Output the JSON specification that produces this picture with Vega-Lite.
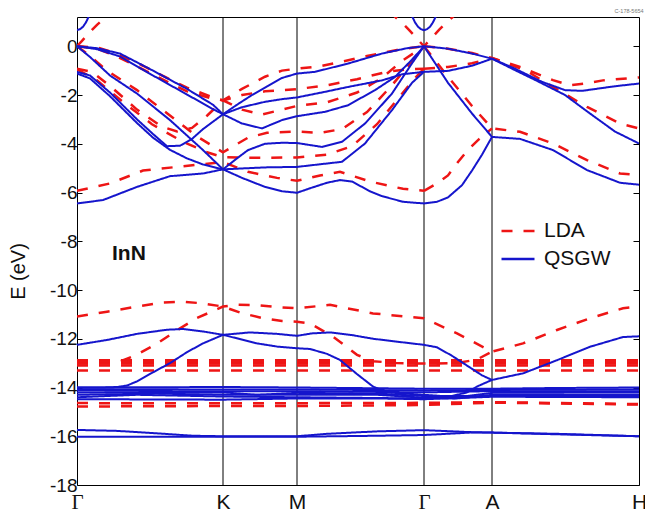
{
"$schema": "https://vega.github.io/schema/vega-lite/v6.json",
"width": 562, "height": 468,
"autosize": {"type": "none"},
"padding": {"left": 77, "top": 17, "right": 6, "bottom": 28},
"background": "white",
"config": {"view": {"stroke": "#000", "strokeWidth": 1}, "font": "Liberation Sans"},
"title": {"text": "C-178-5654", "anchor": "end", "fontSize": 5.5, "fontWeight": "normal", "color": "#777", "offset": 2, "dx": -3},
"datasets": {
"kpts": [{"k": 146}, {"k": 220}, {"k": 347}, {"k": 415}],
"labels": [{"name": "InN", "k": 35, "E": -8.77}],
"bands": [
{"b":"q1","m":"QSGW","k":0,"E":0},{"b":"q1","m":"QSGW","k":20,"E":-0.08},{"b":"q1","m":"QSGW","k":43,"E":-0.3},{"b":"q1","m":"QSGW","k":76,"E":-1.0},{"b":"q1","m":"QSGW","k":110,"E":-1.75},{"b":"q1","m":"QSGW","k":136,"E":-2.4},{"b":"q1","m":"QSGW","k":146,"E":-2.79},{"b":"q1","m":"QSGW","k":160,"E":-2.4},{"b":"q1","m":"QSGW","k":175,"E":-2.0},{"b":"q1","m":"QSGW","k":190,"E":-1.65},{"b":"q1","m":"QSGW","k":205,"E":-1.3},{"b":"q1","m":"QSGW","k":220,"E":-1.12},{"b":"q1","m":"QSGW","k":238,"E":-1.05},{"b":"q1","m":"QSGW","k":271,"E":-0.71},{"b":"q1","m":"QSGW","k":305,"E":-0.3},{"b":"q1","m":"QSGW","k":330,"E":-0.08},{"b":"q1","m":"QSGW","k":347,"E":0},
{"b":"q2","m":"QSGW","k":0,"E":0},{"b":"q2","m":"QSGW","k":20,"E":-0.12},{"b":"q2","m":"QSGW","k":43,"E":-0.42},{"b":"q2","m":"QSGW","k":76,"E":-1.2},{"b":"q2","m":"QSGW","k":110,"E":-1.98},{"b":"q2","m":"QSGW","k":136,"E":-2.58},{"b":"q2","m":"QSGW","k":146,"E":-2.79},{"b":"q2","m":"QSGW","k":165,"E":-2.5},{"b":"q2","m":"QSGW","k":188,"E":-2.28},{"b":"q2","m":"QSGW","k":205,"E":-2.17},{"b":"q2","m":"QSGW","k":220,"E":-2.1},{"b":"q2","m":"QSGW","k":248,"E":-1.87},{"b":"q2","m":"QSGW","k":271,"E":-1.67},{"b":"q2","m":"QSGW","k":305,"E":-1.4},{"b":"q2","m":"QSGW","k":325,"E":-1.15},{"b":"q2","m":"QSGW","k":347,"E":-1.05},
{"b":"q3","m":"QSGW","k":0,"E":0},{"b":"q3","m":"QSGW","k":13,"E":-0.44},{"b":"q3","m":"QSGW","k":33,"E":-1.2},{"b":"q3","m":"QSGW","k":60,"E":-1.94},{"b":"q3","m":"QSGW","k":93,"E":-3.03},{"b":"q3","m":"QSGW","k":126,"E":-4.26},{"b":"q3","m":"QSGW","k":146,"E":-5.05},{"b":"q3","m":"QSGW","k":160,"E":-4.6},{"b":"q3","m":"QSGW","k":171,"E":-4.26},{"b":"q3","m":"QSGW","k":188,"E":-4.0},{"b":"q3","m":"QSGW","k":205,"E":-3.96},{"b":"q3","m":"QSGW","k":220,"E":-3.97},{"b":"q3","m":"QSGW","k":245,"E":-4.13},{"b":"q3","m":"QSGW","k":265,"E":-3.92},{"b":"q3","m":"QSGW","k":288,"E":-3.17},{"b":"q3","m":"QSGW","k":315,"E":-1.94},{"b":"q3","m":"QSGW","k":335,"E":-0.7},{"b":"q3","m":"QSGW","k":347,"E":0},
{"b":"q4","m":"QSGW","k":0,"E":-1.05},{"b":"q4","m":"QSGW","k":13,"E":-1.2},{"b":"q4","m":"QSGW","k":33,"E":-1.9},{"b":"q4","m":"QSGW","k":60,"E":-3.0},{"b":"q4","m":"QSGW","k":76,"E":-3.6},{"b":"q4","m":"QSGW","k":90,"E":-4.1},{"b":"q4","m":"QSGW","k":103,"E":-4.08},{"b":"q4","m":"QSGW","k":115,"E":-3.8},{"b":"q4","m":"QSGW","k":126,"E":-3.4},{"b":"q4","m":"QSGW","k":146,"E":-2.79},{"b":"q4","m":"QSGW","k":165,"E":-3.17},{"b":"q4","m":"QSGW","k":185,"E":-3.37},{"b":"q4","m":"QSGW","k":205,"E":-3.03},{"b":"q4","m":"QSGW","k":220,"E":-2.87},{"b":"q4","m":"QSGW","k":248,"E":-2.69},{"b":"q4","m":"QSGW","k":271,"E":-2.42},{"b":"q4","m":"QSGW","k":298,"E":-1.8},{"b":"q4","m":"QSGW","k":318,"E":-1.26},{"b":"q4","m":"QSGW","k":335,"E":-0.55},{"b":"q4","m":"QSGW","k":347,"E":0},
{"b":"q5","m":"QSGW","k":0,"E":-1.12},{"b":"q5","m":"QSGW","k":13,"E":-1.32},{"b":"q5","m":"QSGW","k":33,"E":-2.05},{"b":"q5","m":"QSGW","k":60,"E":-3.15},{"b":"q5","m":"QSGW","k":76,"E":-3.75},{"b":"q5","m":"QSGW","k":93,"E":-4.25},{"b":"q5","m":"QSGW","k":110,"E":-4.6},{"b":"q5","m":"QSGW","k":126,"E":-4.85},{"b":"q5","m":"QSGW","k":146,"E":-5.05},{"b":"q5","m":"QSGW","k":188,"E":-4.97},{"b":"q5","m":"QSGW","k":220,"E":-4.95},{"b":"q5","m":"QSGW","k":265,"E":-4.74},{"b":"q5","m":"QSGW","k":288,"E":-3.99},{"b":"q5","m":"QSGW","k":315,"E":-2.62},{"b":"q5","m":"QSGW","k":335,"E":-1.5},{"b":"q5","m":"QSGW","k":347,"E":-1.05},
{"b":"q6","m":"QSGW","k":0,"E":-6.45},{"b":"q6","m":"QSGW","k":26,"E":-6.31},{"b":"q6","m":"QSGW","k":60,"E":-5.77},{"b":"q6","m":"QSGW","k":93,"E":-5.33},{"b":"q6","m":"QSGW","k":126,"E":-5.22},{"b":"q6","m":"QSGW","k":146,"E":-5.05},{"b":"q6","m":"QSGW","k":165,"E":-5.4},{"b":"q6","m":"QSGW","k":188,"E":-5.77},{"b":"q6","m":"QSGW","k":205,"E":-5.95},{"b":"q6","m":"QSGW","k":220,"E":-6.01},{"b":"q6","m":"QSGW","k":235,"E":-5.8},{"b":"q6","m":"QSGW","k":250,"E":-5.6},{"b":"q6","m":"QSGW","k":263,"E":-5.49},{"b":"q6","m":"QSGW","k":275,"E":-5.55},{"b":"q6","m":"QSGW","k":293,"E":-5.95},{"b":"q6","m":"QSGW","k":305,"E":-6.15},{"b":"q6","m":"QSGW","k":326,"E":-6.38},{"b":"q6","m":"QSGW","k":347,"E":-6.45},
{"b":"qa1","m":"QSGW","k":347,"E":0},{"b":"qa1","m":"QSGW","k":371,"E":-0.1},{"b":"qa1","m":"QSGW","k":395,"E":-0.3},{"b":"qa1","m":"QSGW","k":415,"E":-0.51},{"b":"qa1","m":"QSGW","k":438,"E":-0.92},{"b":"qa1","m":"QSGW","k":465,"E":-1.46},{"b":"qa1","m":"QSGW","k":488,"E":-1.8},{"b":"qa1","m":"QSGW","k":505,"E":-1.83},{"b":"qa1","m":"QSGW","k":538,"E":-1.64},{"b":"qa1","m":"QSGW","k":562,"E":-1.53},
{"b":"qa2","m":"QSGW","k":347,"E":-1.05},{"b":"qa2","m":"QSGW","k":371,"E":-1.01},{"b":"qa2","m":"QSGW","k":395,"E":-0.8},{"b":"qa2","m":"QSGW","k":415,"E":-0.51},{"b":"qa2","m":"QSGW","k":438,"E":-0.98},{"b":"qa2","m":"QSGW","k":460,"E":-1.42},{"b":"qa2","m":"QSGW","k":488,"E":-2.0},{"b":"qa2","m":"QSGW","k":511,"E":-2.7},{"b":"qa2","m":"QSGW","k":538,"E":-3.5},{"b":"qa2","m":"QSGW","k":562,"E":-3.99},
{"b":"qa3","m":"QSGW","k":347,"E":0},{"b":"qa3","m":"QSGW","k":371,"E":-1.5},{"b":"qa3","m":"QSGW","k":395,"E":-2.76},{"b":"qa3","m":"QSGW","k":415,"E":-3.72},{"b":"qa3","m":"QSGW","k":443,"E":-3.8},{"b":"qa3","m":"QSGW","k":476,"E":-4.26},{"b":"qa3","m":"QSGW","k":510,"E":-5.08},{"b":"qa3","m":"QSGW","k":543,"E":-5.6},{"b":"qa3","m":"QSGW","k":562,"E":-5.68},
{"b":"qa4","m":"QSGW","k":347,"E":-6.45},{"b":"qa4","m":"QSGW","k":360,"E":-6.38},{"b":"qa4","m":"QSGW","k":371,"E":-6.2},{"b":"qa4","m":"QSGW","k":385,"E":-5.7},{"b":"qa4","m":"QSGW","k":395,"E":-5.1},{"b":"qa4","m":"QSGW","k":405,"E":-4.45},{"b":"qa4","m":"QSGW","k":415,"E":-3.72},
{"b":"qc1","m":"QSGW","k":0,"E":0.66},{"b":"qc1","m":"QSGW","k":3,"E":0.7},{"b":"qc1","m":"QSGW","k":6,"E":0.8},{"b":"qc1","m":"QSGW","k":9,"E":0.98},{"b":"qc1","m":"QSGW","k":12,"E":1.24},{"b":"qc1","m":"QSGW","k":15,"E":1.55},
{"b":"qc2","m":"QSGW","k":332,"E":1.55},{"b":"qc2","m":"QSGW","k":335,"E":1.24},{"b":"qc2","m":"QSGW","k":338,"E":0.98},{"b":"qc2","m":"QSGW","k":341,"E":0.8},{"b":"qc2","m":"QSGW","k":344,"E":0.7},{"b":"qc2","m":"QSGW","k":347,"E":0.66},{"b":"qc2","m":"QSGW","k":350,"E":0.7},{"b":"qc2","m":"QSGW","k":353,"E":0.8},{"b":"qc2","m":"QSGW","k":356,"E":0.98},{"b":"qc2","m":"QSGW","k":359,"E":1.24},{"b":"qc2","m":"QSGW","k":362,"E":1.55},
{"b":"ql1","m":"QSGW","k":0,"E":-12.25},{"b":"ql1","m":"QSGW","k":30,"E":-12.05},{"b":"ql1","m":"QSGW","k":60,"E":-11.8},{"b":"ql1","m":"QSGW","k":90,"E":-11.63},{"b":"ql1","m":"QSGW","k":106,"E":-11.6},{"b":"ql1","m":"QSGW","k":126,"E":-11.7},{"b":"ql1","m":"QSGW","k":146,"E":-11.84},{"b":"ql1","m":"QSGW","k":180,"E":-12.19},{"b":"ql1","m":"QSGW","k":200,"E":-12.32},{"b":"ql1","m":"QSGW","k":220,"E":-12.39},{"b":"ql1","m":"QSGW","k":233,"E":-12.42},{"b":"ql1","m":"QSGW","k":250,"E":-12.62},{"b":"ql1","m":"QSGW","k":263,"E":-12.87},{"b":"ql1","m":"QSGW","k":280,"E":-13.45},{"b":"ql1","m":"QSGW","k":296,"E":-13.96},{"b":"ql1","m":"QSGW","k":310,"E":-14.2},{"b":"ql1","m":"QSGW","k":347,"E":-14.3},{"b":"ql1","m":"QSGW","k":373,"E":-14.37},{"b":"ql1","m":"QSGW","k":390,"E":-14.2},{"b":"ql1","m":"QSGW","k":400,"E":-13.96},{"b":"ql1","m":"QSGW","k":415,"E":-13.69},
{"b":"ql2","m":"QSGW","k":0,"E":-14.0},{"b":"ql2","m":"QSGW","k":25,"E":-14.0},{"b":"ql2","m":"QSGW","k":40,"E":-13.98},{"b":"ql2","m":"QSGW","k":50,"E":-13.92},{"b":"ql2","m":"QSGW","k":60,"E":-13.75},{"b":"ql2","m":"QSGW","k":75,"E":-13.4},{"b":"ql2","m":"QSGW","k":93,"E":-13.0},{"b":"ql2","m":"QSGW","k":110,"E":-12.55},{"b":"ql2","m":"QSGW","k":126,"E":-12.19},{"b":"ql2","m":"QSGW","k":146,"E":-11.84},{"b":"ql2","m":"QSGW","k":173,"E":-11.74},{"b":"ql2","m":"QSGW","k":200,"E":-11.8},{"b":"ql2","m":"QSGW","k":220,"E":-11.88},{"b":"ql2","m":"QSGW","k":235,"E":-11.78},{"b":"ql2","m":"QSGW","k":253,"E":-11.74},{"b":"ql2","m":"QSGW","k":275,"E":-11.85},{"b":"ql2","m":"QSGW","k":296,"E":-12.0},{"b":"ql2","m":"QSGW","k":320,"E":-12.12},{"b":"ql2","m":"QSGW","k":347,"E":-12.25},{"b":"ql2","m":"QSGW","k":360,"E":-12.35},{"b":"ql2","m":"QSGW","k":375,"E":-12.7},{"b":"ql2","m":"QSGW","k":390,"E":-13.1},{"b":"ql2","m":"QSGW","k":405,"E":-13.5},{"b":"ql2","m":"QSGW","k":415,"E":-13.69},{"b":"ql2","m":"QSGW","k":446,"E":-13.42},{"b":"ql2","m":"QSGW","k":480,"E":-12.88},{"b":"ql2","m":"QSGW","k":513,"E":-12.33},{"b":"ql2","m":"QSGW","k":546,"E":-11.93},{"b":"ql2","m":"QSGW","k":562,"E":-11.9},
{"b":"d1","m":"QSGW","k":0,"E":-14.0},{"b":"d1","m":"QSGW","k":146,"E":-13.98},{"b":"d1","m":"QSGW","k":220,"E":-14.0},{"b":"d1","m":"QSGW","k":347,"E":-14.05},{"b":"d1","m":"QSGW","k":415,"E":-14.05},{"b":"d1","m":"QSGW","k":480,"E":-14.02},{"b":"d1","m":"QSGW","k":562,"E":-14.0},
{"b":"d2","m":"QSGW","k":0,"E":-14.07},{"b":"d2","m":"QSGW","k":146,"E":-14.08},{"b":"d2","m":"QSGW","k":220,"E":-14.08},{"b":"d2","m":"QSGW","k":347,"E":-14.12},{"b":"d2","m":"QSGW","k":415,"E":-14.1},{"b":"d2","m":"QSGW","k":562,"E":-14.08},
{"b":"d3","m":"QSGW","k":0,"E":-14.12},{"b":"d3","m":"QSGW","k":100,"E":-14.15},{"b":"d3","m":"QSGW","k":146,"E":-14.15},{"b":"d3","m":"QSGW","k":220,"E":-14.15},{"b":"d3","m":"QSGW","k":300,"E":-14.18},{"b":"d3","m":"QSGW","k":347,"E":-14.2},{"b":"d3","m":"QSGW","k":415,"E":-14.15},{"b":"d3","m":"QSGW","k":562,"E":-14.15},
{"b":"d4","m":"QSGW","k":0,"E":-14.2},{"b":"d4","m":"QSGW","k":146,"E":-14.2},{"b":"d4","m":"QSGW","k":180,"E":-14.3},{"b":"d4","m":"QSGW","k":220,"E":-14.22},{"b":"d4","m":"QSGW","k":300,"E":-14.25},{"b":"d4","m":"QSGW","k":347,"E":-14.35},{"b":"d4","m":"QSGW","k":390,"E":-14.35},{"b":"d4","m":"QSGW","k":415,"E":-14.22},{"b":"d4","m":"QSGW","k":562,"E":-14.2},
{"b":"d5","m":"QSGW","k":0,"E":-14.3},{"b":"d5","m":"QSGW","k":80,"E":-14.25},{"b":"d5","m":"QSGW","k":146,"E":-14.3},{"b":"d5","m":"QSGW","k":220,"E":-14.3},{"b":"d5","m":"QSGW","k":300,"E":-14.3},{"b":"d5","m":"QSGW","k":347,"E":-14.42},{"b":"d5","m":"QSGW","k":380,"E":-14.45},{"b":"d5","m":"QSGW","k":415,"E":-14.3},{"b":"d5","m":"QSGW","k":562,"E":-14.3},
{"b":"d6","m":"QSGW","k":0,"E":-14.4},{"b":"d6","m":"QSGW","k":60,"E":-14.3},{"b":"d6","m":"QSGW","k":146,"E":-14.37},{"b":"d6","m":"QSGW","k":220,"E":-14.4},{"b":"d6","m":"QSGW","k":347,"E":-14.45},{"b":"d6","m":"QSGW","k":415,"E":-14.35},{"b":"d6","m":"QSGW","k":562,"E":-14.35},
{"b":"d7","m":"QSGW","k":0,"E":-14.48},{"b":"d7","m":"QSGW","k":146,"E":-14.5},{"b":"d7","m":"QSGW","k":220,"E":-14.45},{"b":"d7","m":"QSGW","k":300,"E":-14.45},{"b":"d7","m":"QSGW","k":347,"E":-14.48},{"b":"d7","m":"QSGW","k":390,"E":-14.42},{"b":"d7","m":"QSGW","k":415,"E":-14.38},{"b":"d7","m":"QSGW","k":562,"E":-14.4},
{"b":"n1","m":"QSGW","k":0,"E":-15.74},{"b":"n1","m":"QSGW","k":40,"E":-15.78},{"b":"n1","m":"QSGW","k":80,"E":-15.88},{"b":"n1","m":"QSGW","k":116,"E":-15.98},{"b":"n1","m":"QSGW","k":146,"E":-16.0},{"b":"n1","m":"QSGW","k":220,"E":-16.0},{"b":"n1","m":"QSGW","k":250,"E":-15.9},{"b":"n1","m":"QSGW","k":300,"E":-15.8},{"b":"n1","m":"QSGW","k":347,"E":-15.75},{"b":"n1","m":"QSGW","k":393,"E":-15.83},{"b":"n1","m":"QSGW","k":415,"E":-15.85},{"b":"n1","m":"QSGW","k":480,"E":-15.9},{"b":"n1","m":"QSGW","k":562,"E":-16.0},
{"b":"n2","m":"QSGW","k":0,"E":-16.02},{"b":"n2","m":"QSGW","k":146,"E":-16.02},{"b":"n2","m":"QSGW","k":220,"E":-16.02},{"b":"n2","m":"QSGW","k":300,"E":-15.98},{"b":"n2","m":"QSGW","k":347,"E":-15.95},{"b":"n2","m":"QSGW","k":393,"E":-15.85},{"b":"n2","m":"QSGW","k":415,"E":-15.85},{"b":"n2","m":"QSGW","k":480,"E":-15.92},{"b":"n2","m":"QSGW","k":562,"E":-16.0},
{"b":"l1","m":"LDA","k":0,"E":0},{"b":"l1","m":"LDA","k":20,"E":-0.05},{"b":"l1","m":"LDA","k":40,"E":-0.3},{"b":"l1","m":"LDA","k":66,"E":-0.8},{"b":"l1","m":"LDA","k":90,"E":-1.3},{"b":"l1","m":"LDA","k":110,"E":-1.7},{"b":"l1","m":"LDA","k":133,"E":-2.05},{"b":"l1","m":"LDA","k":146,"E":-2.22},{"b":"l1","m":"LDA","k":165,"E":-1.75},{"b":"l1","m":"LDA","k":188,"E":-1.25},{"b":"l1","m":"LDA","k":205,"E":-1.0},{"b":"l1","m":"LDA","k":220,"E":-0.92},{"b":"l1","m":"LDA","k":243,"E":-0.82},{"b":"l1","m":"LDA","k":263,"E":-0.65},{"b":"l1","m":"LDA","k":290,"E":-0.4},{"b":"l1","m":"LDA","k":320,"E":-0.15},{"b":"l1","m":"LDA","k":347,"E":0},
{"b":"l2","m":"LDA","k":0,"E":0},{"b":"l2","m":"LDA","k":20,"E":-0.1},{"b":"l2","m":"LDA","k":40,"E":-0.42},{"b":"l2","m":"LDA","k":66,"E":-0.95},{"b":"l2","m":"LDA","k":90,"E":-1.45},{"b":"l2","m":"LDA","k":110,"E":-1.85},{"b":"l2","m":"LDA","k":133,"E":-2.12},{"b":"l2","m":"LDA","k":146,"E":-2.22},{"b":"l2","m":"LDA","k":165,"E":-2.0},{"b":"l2","m":"LDA","k":188,"E":-1.85},{"b":"l2","m":"LDA","k":220,"E":-1.76},{"b":"l2","m":"LDA","k":250,"E":-1.6},{"b":"l2","m":"LDA","k":280,"E":-1.35},{"b":"l2","m":"LDA","k":310,"E":-1.05},{"b":"l2","m":"LDA","k":330,"E":-0.95},{"b":"l2","m":"LDA","k":347,"E":-0.92},
{"b":"l3","m":"LDA","k":0,"E":0},{"b":"l3","m":"LDA","k":10,"E":-0.3},{"b":"l3","m":"LDA","k":30,"E":-1.0},{"b":"l3","m":"LDA","k":60,"E":-1.8},{"b":"l3","m":"LDA","k":90,"E":-2.75},{"b":"l3","m":"LDA","k":120,"E":-3.7},{"b":"l3","m":"LDA","k":146,"E":-4.35},{"b":"l3","m":"LDA","k":171,"E":-3.75},{"b":"l3","m":"LDA","k":190,"E":-3.55},{"b":"l3","m":"LDA","k":220,"E":-3.5},{"b":"l3","m":"LDA","k":243,"E":-3.55},{"b":"l3","m":"LDA","k":265,"E":-3.4},{"b":"l3","m":"LDA","k":290,"E":-2.7},{"b":"l3","m":"LDA","k":315,"E":-1.6},{"b":"l3","m":"LDA","k":335,"E":-0.6},{"b":"l3","m":"LDA","k":347,"E":0},
{"b":"l4","m":"LDA","k":0,"E":-0.92},{"b":"l4","m":"LDA","k":15,"E":-1.05},{"b":"l4","m":"LDA","k":35,"E":-1.7},{"b":"l4","m":"LDA","k":60,"E":-2.6},{"b":"l4","m":"LDA","k":85,"E":-3.3},{"b":"l4","m":"LDA","k":100,"E":-3.5},{"b":"l4","m":"LDA","k":115,"E":-3.35},{"b":"l4","m":"LDA","k":130,"E":-2.85},{"b":"l4","m":"LDA","k":146,"E":-2.22},{"b":"l4","m":"LDA","k":165,"E":-2.6},{"b":"l4","m":"LDA","k":185,"E":-2.8},{"b":"l4","m":"LDA","k":205,"E":-2.6},{"b":"l4","m":"LDA","k":220,"E":-2.45},{"b":"l4","m":"LDA","k":250,"E":-2.3},{"b":"l4","m":"LDA","k":280,"E":-1.9},{"b":"l4","m":"LDA","k":305,"E":-1.3},{"b":"l4","m":"LDA","k":325,"E":-0.6},{"b":"l4","m":"LDA","k":347,"E":0},
{"b":"l5","m":"LDA","k":0,"E":-0.95},{"b":"l5","m":"LDA","k":20,"E":-1.4},{"b":"l5","m":"LDA","k":45,"E":-2.25},{"b":"l5","m":"LDA","k":75,"E":-3.2},{"b":"l5","m":"LDA","k":105,"E":-3.9},{"b":"l5","m":"LDA","k":130,"E":-4.35},{"b":"l5","m":"LDA","k":146,"E":-4.55},{"b":"l5","m":"LDA","k":185,"E":-4.58},{"b":"l5","m":"LDA","k":220,"E":-4.56},{"b":"l5","m":"LDA","k":250,"E":-4.45},{"b":"l5","m":"LDA","k":275,"E":-4.1},{"b":"l5","m":"LDA","k":300,"E":-3.2},{"b":"l5","m":"LDA","k":320,"E":-2.2},{"b":"l5","m":"LDA","k":337,"E":-1.35},{"b":"l5","m":"LDA","k":347,"E":-0.92},
{"b":"l6","m":"LDA","k":0,"E":-5.93},{"b":"l6","m":"LDA","k":33,"E":-5.63},{"b":"l6","m":"LDA","k":66,"E":-5.1},{"b":"l6","m":"LDA","k":100,"E":-4.95},{"b":"l6","m":"LDA","k":146,"E":-4.75},{"b":"l6","m":"LDA","k":171,"E":-5.15},{"b":"l6","m":"LDA","k":200,"E":-5.4},{"b":"l6","m":"LDA","k":220,"E":-5.52},{"b":"l6","m":"LDA","k":243,"E":-5.3},{"b":"l6","m":"LDA","k":263,"E":-5.15},{"b":"l6","m":"LDA","k":293,"E":-5.55},{"b":"l6","m":"LDA","k":326,"E":-5.85},{"b":"l6","m":"LDA","k":347,"E":-5.93},
{"b":"la1","m":"LDA","k":347,"E":0},{"b":"la1","m":"LDA","k":371,"E":-0.1},{"b":"la1","m":"LDA","k":395,"E":-0.28},{"b":"la1","m":"LDA","k":415,"E":-0.48},{"b":"la1","m":"LDA","k":443,"E":-0.85},{"b":"la1","m":"LDA","k":476,"E":-1.39},{"b":"la1","m":"LDA","k":493,"E":-1.6},{"b":"la1","m":"LDA","k":510,"E":-1.52},{"b":"la1","m":"LDA","k":526,"E":-1.4},{"b":"la1","m":"LDA","k":562,"E":-1.28},
{"b":"la2","m":"LDA","k":347,"E":-0.92},{"b":"la2","m":"LDA","k":371,"E":-0.85},{"b":"la2","m":"LDA","k":395,"E":-0.7},{"b":"la2","m":"LDA","k":415,"E":-0.48},{"b":"la2","m":"LDA","k":449,"E":-1.0},{"b":"la2","m":"LDA","k":476,"E":-1.67},{"b":"la2","m":"LDA","k":510,"E":-2.49},{"b":"la2","m":"LDA","k":543,"E":-3.17},{"b":"la2","m":"LDA","k":562,"E":-3.37},
{"b":"la3","m":"LDA","k":347,"E":0},{"b":"la3","m":"LDA","k":371,"E":-1.25},{"b":"la3","m":"LDA","k":395,"E":-2.45},{"b":"la3","m":"LDA","k":415,"E":-3.37},{"b":"la3","m":"LDA","k":443,"E":-3.51},{"b":"la3","m":"LDA","k":476,"E":-3.99},{"b":"la3","m":"LDA","k":510,"E":-4.67},{"b":"la3","m":"LDA","k":543,"E":-5.22},{"b":"la3","m":"LDA","k":562,"E":-5.29},
{"b":"la4","m":"LDA","k":347,"E":-5.93},{"b":"la4","m":"LDA","k":361,"E":-5.6},{"b":"la4","m":"LDA","k":371,"E":-5.3},{"b":"la4","m":"LDA","k":381,"E":-4.75},{"b":"la4","m":"LDA","k":391,"E":-4.25},{"b":"la4","m":"LDA","k":401,"E":-3.85},{"b":"la4","m":"LDA","k":415,"E":-3.37},
{"b":"lc1","m":"LDA","k":0,"E":0.0},{"b":"lc1","m":"LDA","k":5,"E":0.22},{"b":"lc1","m":"LDA","k":10,"E":0.45},{"b":"lc1","m":"LDA","k":15,"E":0.67},{"b":"lc1","m":"LDA","k":20,"E":0.88},{"b":"lc1","m":"LDA","k":25,"E":1.06},{"b":"lc1","m":"LDA","k":30,"E":1.25},{"b":"lc1","m":"LDA","k":35,"E":1.45},
{"b":"lc2","m":"LDA","k":312,"E":1.45},{"b":"lc2","m":"LDA","k":317,"E":1.25},{"b":"lc2","m":"LDA","k":322,"E":1.06},{"b":"lc2","m":"LDA","k":327,"E":0.88},{"b":"lc2","m":"LDA","k":332,"E":0.67},{"b":"lc2","m":"LDA","k":337,"E":0.45},{"b":"lc2","m":"LDA","k":342,"E":0.22},{"b":"lc2","m":"LDA","k":347,"E":0.0},{"b":"lc2","m":"LDA","k":352,"E":0.22},{"b":"lc2","m":"LDA","k":357,"E":0.45},{"b":"lc2","m":"LDA","k":362,"E":0.67},{"b":"lc2","m":"LDA","k":367,"E":0.88},{"b":"lc2","m":"LDA","k":372,"E":1.06},{"b":"lc2","m":"LDA","k":377,"E":1.25},{"b":"lc2","m":"LDA","k":382,"E":1.45},
{"b":"lr1","m":"LDA","k":0,"E":-11.09},{"b":"lr1","m":"LDA","k":30,"E":-10.89},{"b":"lr1","m":"LDA","k":60,"E":-10.68},{"b":"lr1","m":"LDA","k":85,"E":-10.52},{"b":"lr1","m":"LDA","k":106,"E":-10.48},{"b":"lr1","m":"LDA","k":126,"E":-10.55},{"b":"lr1","m":"LDA","k":146,"E":-10.68},{"b":"lr1","m":"LDA","k":165,"E":-10.95},{"b":"lr1","m":"LDA","k":185,"E":-11.15},{"b":"lr1","m":"LDA","k":205,"E":-11.27},{"b":"lr1","m":"LDA","k":220,"E":-11.3},{"b":"lr1","m":"LDA","k":233,"E":-11.37},{"b":"lr1","m":"LDA","k":256,"E":-11.91},{"b":"lr1","m":"LDA","k":280,"E":-12.66},{"b":"lr1","m":"LDA","k":296,"E":-12.92},{"b":"lr1","m":"LDA","k":320,"E":-13.0},{"b":"lr1","m":"LDA","k":347,"E":-13.02},{"b":"lr1","m":"LDA","k":380,"E":-13.0},{"b":"lr1","m":"LDA","k":400,"E":-12.85},{"b":"lr1","m":"LDA","k":415,"E":-12.53},
{"b":"lr2","m":"LDA","k":0,"E":-13.0},{"b":"lr2","m":"LDA","k":35,"E":-13.0},{"b":"lr2","m":"LDA","k":45,"E":-12.9},{"b":"lr2","m":"LDA","k":60,"E":-12.65},{"b":"lr2","m":"LDA","k":80,"E":-12.2},{"b":"lr2","m":"LDA","k":100,"E":-11.65},{"b":"lr2","m":"LDA","k":120,"E":-11.15},{"b":"lr2","m":"LDA","k":146,"E":-10.68},{"b":"lr2","m":"LDA","k":160,"E":-10.6},{"b":"lr2","m":"LDA","k":180,"E":-10.62},{"b":"lr2","m":"LDA","k":200,"E":-10.7},{"b":"lr2","m":"LDA","k":220,"E":-10.75},{"b":"lr2","m":"LDA","k":253,"E":-10.61},{"b":"lr2","m":"LDA","k":296,"E":-10.96},{"b":"lr2","m":"LDA","k":347,"E":-11.16},{"b":"lr2","m":"LDA","k":380,"E":-11.78},{"b":"lr2","m":"LDA","k":415,"E":-12.53},{"b":"lr2","m":"LDA","k":446,"E":-12.19},{"b":"lr2","m":"LDA","k":480,"E":-11.64},{"b":"lr2","m":"LDA","k":513,"E":-11.16},{"b":"lr2","m":"LDA","k":546,"E":-10.75},{"b":"lr2","m":"LDA","k":562,"E":-10.68},
{"b":"ld1","m":"LDA","k":0,"E":-12.88},{"b":"ld1","m":"LDA","k":562,"E":-12.88},
{"b":"ld2","m":"LDA","k":0,"E":-12.95},{"b":"ld2","m":"LDA","k":562,"E":-12.95},
{"b":"ld3","m":"LDA","k":0,"E":-13.02},{"b":"ld3","m":"LDA","k":562,"E":-13.02},
{"b":"ld4","m":"LDA","k":0,"E":-13.1},{"b":"ld4","m":"LDA","k":562,"E":-13.1},
{"b":"ld5","m":"LDA","k":0,"E":-13.3},{"b":"ld5","m":"LDA","k":562,"E":-13.3},
{"b":"ln1","m":"LDA","k":0,"E":-14.64},{"b":"ln1","m":"LDA","k":146,"E":-14.65},{"b":"ln1","m":"LDA","k":347,"E":-14.63},{"b":"ln1","m":"LDA","k":415,"E":-14.6},{"b":"ln1","m":"LDA","k":562,"E":-14.68},
{"b":"ln2","m":"LDA","k":0,"E":-14.78},{"b":"ln2","m":"LDA","k":146,"E":-14.76},{"b":"ln2","m":"LDA","k":220,"E":-14.76},{"b":"ln2","m":"LDA","k":347,"E":-14.72},{"b":"ln2","m":"LDA","k":415,"E":-14.62},{"b":"ln2","m":"LDA","k":562,"E":-14.7}
]},
"resolve": {"axis": {"y": "independent"}},
"layer": [
{"data": {"name": "kpts"}, "mark": {"type": "rule", "color": "#000", "strokeWidth": 1},
 "encoding": {"x": {"field": "k", "type": "quantitative", "title": null,
   "scale": {"domain": [0, 562], "nice": false, "zero": false},
   "axis": {"values": [0, 146, 220, 347, 415, 562], "ticks": false, "domain": false, "grid": false, "labelFlush": false, "labelOverlap": false, "labelPadding": 6, "labelFontSize": 21, "labelColor": "#111",
     "labelFont": {"condition": {"test": "datum.value == 0 || datum.value == 347", "value": "Liberation Serif"}, "value": "Liberation Sans"},
     "labelExpr": "datum.value == 0 || datum.value == 347 ? 'Γ' : datum.value == 146 ? 'K' : datum.value == 220 ? 'M' : datum.value == 415 ? 'A' : 'H'"}}}},
{"mark": {"type": "rule", "color": "#000", "strokeWidth": 2.2, "strokeDash": [0.1, 6.7], "strokeCap": "round"},
 "encoding": {"y": {"datum": 0, "type": "quantitative", "scale": {"domain": [-18, 1.2], "nice": false, "zero": false}, "axis": null}}},
{"data": {"name": "bands"}, "transform": [{"filter": "datum.m === 'LDA'"}],
 "mark": {"type": "line", "clip": true, "strokeWidth": 2.5},
 "encoding": {
  "x": {"field": "k", "type": "quantitative", "title": null},
  "y": {"field": "E", "type": "quantitative", "scale": {"domain": [-18, 1.2], "nice": false, "zero": false},
    "axis": {"orient": "left", "values": [-18, -16, -14, -12, -10, -8, -6, -4, -2, 0], "labelExpr": "'' + datum.value", "labelFontSize": 19, "labelColor": "#111", "tickSize": -5, "tickColor": "#000", "domain": false, "grid": false, "labelPadding": 5,
      "title": "E  (eV)", "titleFontSize": 20, "titleFontWeight": "normal", "titleColor": "#111", "titleX": -49, "titleY": 254}},
  "color": {"field": "m", "type": "nominal", "scale": {"domain": ["LDA", "QSGW"], "range": ["#ee1515", "#1515cc"]},
    "legend": {"orient": "none", "legendX": 423, "legendY": 196, "title": null, "symbolType": "stroke", "symbolSize": 1089, "symbolStrokeWidth": 2.5, "labelFontSize": 21, "labelColor": "#111", "labelOffset": 8, "rowPadding": -6, "padding": 0}},
  "strokeDash": {"field": "m", "type": "nominal", "scale": {"domain": ["LDA", "QSGW"], "range": [[11, 11], [1, 0]]}},
  "detail": {"field": "b"},
  "order": {"field": "k", "type": "quantitative"}}},
{"data": {"name": "bands"}, "transform": [{"filter": "datum.m === 'QSGW'"}],
 "mark": {"type": "line", "clip": true, "strokeWidth": 2},
 "encoding": {
  "x": {"field": "k", "type": "quantitative", "title": null},
  "y": {"field": "E", "type": "quantitative",
    "axis": {"orient": "right", "values": [-18, -16, -14, -12, -10, -8, -6, -4, -2, 0], "labels": false, "tickSize": -6, "tickColor": "#000", "domain": false, "grid": false, "title": null}},
  "color": {"field": "m", "type": "nominal"},
  "strokeDash": {"field": "m", "type": "nominal"},
  "detail": {"field": "b"},
  "order": {"field": "k", "type": "quantitative"}}},
{"data": {"name": "labels"},
 "mark": {"type": "text", "fontSize": 21, "fontWeight": "bold", "align": "left", "baseline": "alphabetic", "color": "#111"},
 "encoding": {"text": {"field": "name"}, "x": {"field": "k", "type": "quantitative", "title": null}, "y": {"field": "E", "type": "quantitative", "axis": null}}}
]
}
